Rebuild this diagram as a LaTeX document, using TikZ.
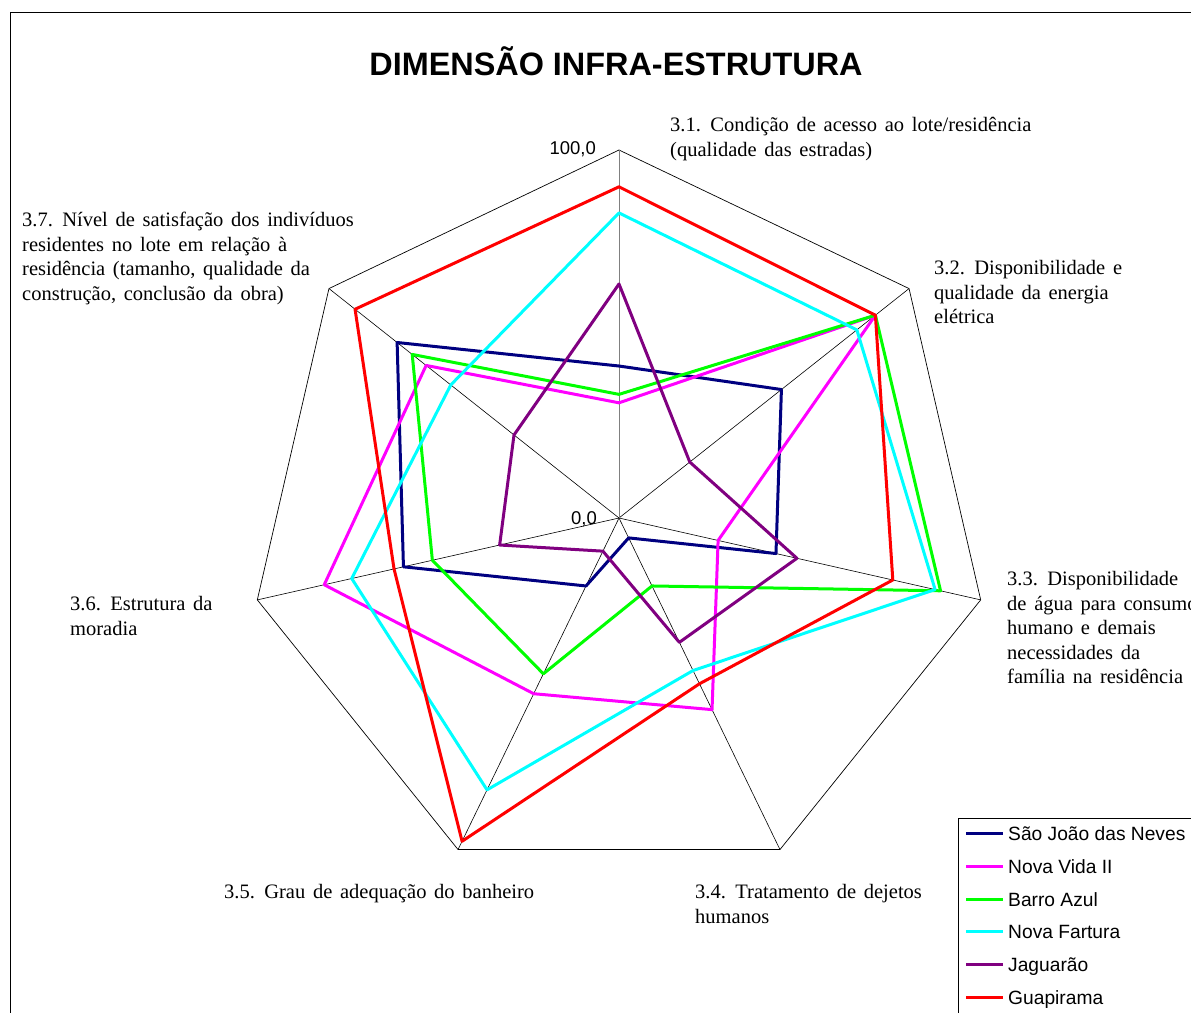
\documentclass[tikz,border=0pt]{standalone}
\usepackage{fontspec}
\setmainfont{Liberation Serif}[WordSpace=1.5]
\newfontfamily\arialfont{Liberation Sans}
\definecolor{sjneves}{RGB}{0,0,128}
\definecolor{novavida}{RGB}{255,0,255}
\definecolor{barroazul}{RGB}{0,255,0}
\definecolor{novafartura}{RGB}{0,255,255}
\definecolor{jaguarao}{RGB}{128,0,128}
\definecolor{guapirama}{RGB}{255,0,0}
% one closed line of the radar, values 0..1 on the seven axes
\newcommand\serie[8]{\draw[serie,#1] (90:#2) -- (38.571:#3) -- (-12.857:#4) -- (-64.286:#5) -- (-115.714:#6) -- (-167.143:#7) -- (141.429:#8) -- cycle;}

\begin{document}
\begin{tikzpicture}[x=1pt,y=-1pt,
    rotulo/.style={anchor=north west,align=left,inner sep=0pt,font=\fontsize{20.5}{24.6}\selectfont},
    legenda/.style={anchor=base west,inner sep=0pt,font=\arialfont\fontsize{19.2}{22}\selectfont},
    eixo/.style={anchor=base east,inner sep=0pt,font=\arialfont\fontsize{18.5}{22}\selectfont},
    serie/.style={line width=3pt,line join=round}]
\useasboundingbox (0,0) rectangle (1191,1012);
\clip (0,0) rectangle (1191,1012);
\draw[line width=0.8pt] (10.5,1030) -- (10.5,12.5) -- (1210,12.5);

\node (titulo) at (616,75) [anchor=base,inner sep=0pt,font=\arialfont\bfseries\fontsize{32.4}{36}\selectfont] {DIMENSÃO INFRA-ESTRUTURA};

\begin{scope}[shift={(619,518)},x=371pt,y=368pt]
    \coordinate (o) at (0,0);
    \foreach \k in {0,...,6}
        \coordinate (v\k) at ({90-\k*360/7}:1);
    \draw[line width=0.7pt] (v0) -- (v1) -- (v2) -- (v3) -- (v4) -- (v5) -- (v6) -- cycle;
    \foreach \k in {1,...,6}
        \draw[line width=0.6pt] (o) -- (v\k);
    \draw[line width=0.8pt,gray] (o) -- (v0);

    \serie{sjneves}{.413}{.56}{.434}{.06}{.205}{.596}{.765}
    \serie{novavida}{.313}{.884}{.274}{.578}{.53}{.815}{.665}
    \serie{barroazul}{.336}{.884}{.889}{.205}{.47}{.516}{.713}
    \serie{novafartura}{.829}{.82}{.874}{.46}{.82}{.739}{.58}
    \serie{jaguarao}{.636}{.244}{.492}{.375}{.1}{.33}{.362}
    \serie{guapirama}{.90}{.884}{.757}{.50}{.975}{.622}{.91}
\end{scope}

\node (max) at (596,154) [eixo] {100,0};
\node (min) at (597,524) [eixo] {0,0};

\node (e31) at (670,117) [rotulo] {3.1. Condição de acesso ao lote/residência\\(qualidade das estradas)};
\node (e32) at (934,260) [rotulo] {3.2. Disponibilidade e\\qualidade da energia\\elétrica};
\node (e33) at (1007,571) [rotulo] {3.3. Disponibilidade\\de água para consumo\\humano e demais\\necessidades da\\família na residência};
\node (e34) at (695,884) [rotulo] {3.4. Tratamento de dejetos\\humanos};
\node (e35) at (224,884) [rotulo] {3.5. Grau de adequação do banheiro};
\node (e36) at (70,596) [rotulo] {3.6. Estrutura da\\moradia};
\node (e37) at (22,212) [rotulo] {3.7. Nível de satisfação dos indivíduos\\residentes no lote em relação à\\residência (tamanho, qualidade da\\construção, conclusão da obra)};

% legend
\draw[line width=0.8pt] (958,1030) -- (958,818.5) -- (1210,818.5);
\node (t1) at (1008,840) [legenda] {São João das Neves};
\node (t2) at (1008,873) [legenda] {Nova Vida II};
\node (t3) at (1008,906) [legenda] {Barro Azul};
\node (t4) at (1008,938) [legenda] {Nova Fartura};
\node (t5) at (1008,971) [legenda] {Jaguarão};
\node (t6) at (1008,1004) [legenda] {Guapirama};
\coordinate (l1) at (966,833);
\coordinate (l2) at (966,866);
\coordinate (l3) at (966,899);
\coordinate (l4) at (966,931);
\coordinate (l5) at (966,964);
\coordinate (l6) at (966,997);
\draw[serie,sjneves] (l1) -- ++(37,0);
\draw[serie,novavida] (l2) -- ++(37,0);
\draw[serie,barroazul] (l3) -- ++(37,0);
\draw[serie,novafartura] (l4) -- ++(37,0);
\draw[serie,jaguarao] (l5) -- ++(37,0);
\draw[serie,guapirama] (l6) -- ++(37,0);
\end{tikzpicture}
\end{document}
